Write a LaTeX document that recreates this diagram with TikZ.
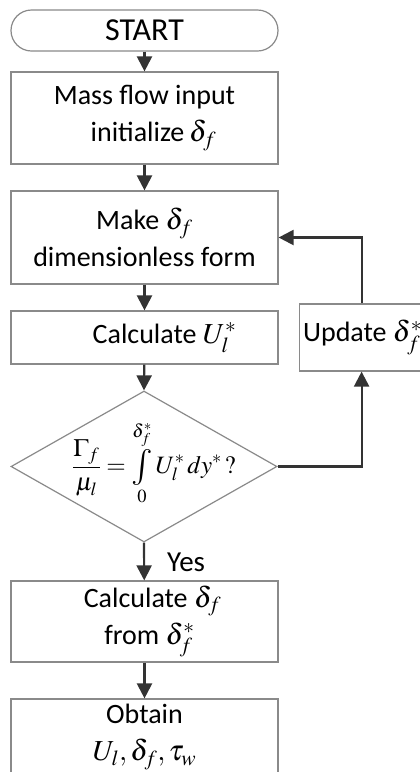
\documentclass[tikz,border=0pt]{standalone}
\usepackage{mathptmx}
\usepackage[no-math]{fontspec}
\setmainfont{Carlito}
\usetikzlibrary{arrows.meta,shapes.geometric}
\definecolor{boxgray}{HTML}{8A8A8A}
\definecolor{arrowgray}{HTML}{333333}
\newcommand\mth[1]{{\fontsize{29}{34}\selectfont$#1$}}
\newcommand\bigint{\mathop{\vcenter{\hbox{\fontsize{36}{36}\selectfont$\textstyle\int$}}}}
\tikzset{
  base/.style={draw=boxgray, line width=1.2pt, font=\fontsize{28}{37}\selectfont, align=center, inner sep=0pt, text=black},
  procbox/.style={base, rectangle, minimum width=267pt},
  termbox/.style={base, rectangle, rounded corners=20.5pt, minimum width=267pt, minimum height=41pt, font=\fontsize{32}{37}\selectfont},
  decbox/.style={base, diamond, minimum width=266pt, minimum height=151pt},
  flow/.style={draw=arrowgray, line width=2.2pt, -{Triangle[length=15pt,width=15pt]}},
}
\begin{document}
\begin{tikzpicture}[x=1pt,y=-1pt]
\useasboundingbox (0,0) rectangle (420,772);
\clip (0,0) rectangle (420,772);
\fill[white] (0,0) rectangle (420,772);
\node[termbox] (start) at (144.5,30.5) {START};
\node[procbox, minimum height=92pt] (b1) at (144.5,118) {Mass flow input\\\hspace*{18pt}initialize\,\mth{\delta_f}};
\node[procbox, minimum height=93pt] (b2) at (144.5,237.5) {Make \mth{\delta_f}\\dimensionless form};
\node[procbox, minimum height=53pt] (b3) at (144.5,337.5) {\hspace*{40pt}Calculate \mth{U_l^*}};
\node[decbox] (dia) at (144,466.5) {};
\node[font=\fontsize{25}{30}\selectfont, inner sep=0pt] (form) at (154,463) {$\displaystyle\frac{\Gamma_f}{\mu_l}=\bigint\limits_0^{\delta_f^*}U_l^*\,dy^*\,?$};
\node[procbox, minimum height=81pt] (b4) at (144.5,621.5) {\hspace*{16pt}Calculate \mth{\delta_f}\\\hspace*{10pt}from \mth{\delta_f^*}};
\node[procbox, minimum height=76pt] (b5) at (144.5,737) {Obtain\\\mth{U_l,\delta_f,\tau_w}};
\node[procbox, minimum width=124pt, minimum height=67pt, anchor=west] (upd) at (299,337.5) {\hspace*{2pt}Update \mth{\delta_f^*}\hfill};
\node[font=\fontsize{29}{34}\selectfont, inner sep=0pt, anchor=west] (yes) at (167,562) {Yes};
\draw[flow] (start) -- (b1);
\draw[flow] (b1) -- (b2);
\draw[flow] (b2) -- (b3);
\draw[flow] (b3) -- (dia.north);
\draw[flow] (dia.south) -- (b4);
\draw[flow] (b4) -- (b5);
\draw[flow] (dia.east) -| (upd.south);
\draw[flow] (upd.north) |- (b2.east);
\end{tikzpicture}
\end{document}
